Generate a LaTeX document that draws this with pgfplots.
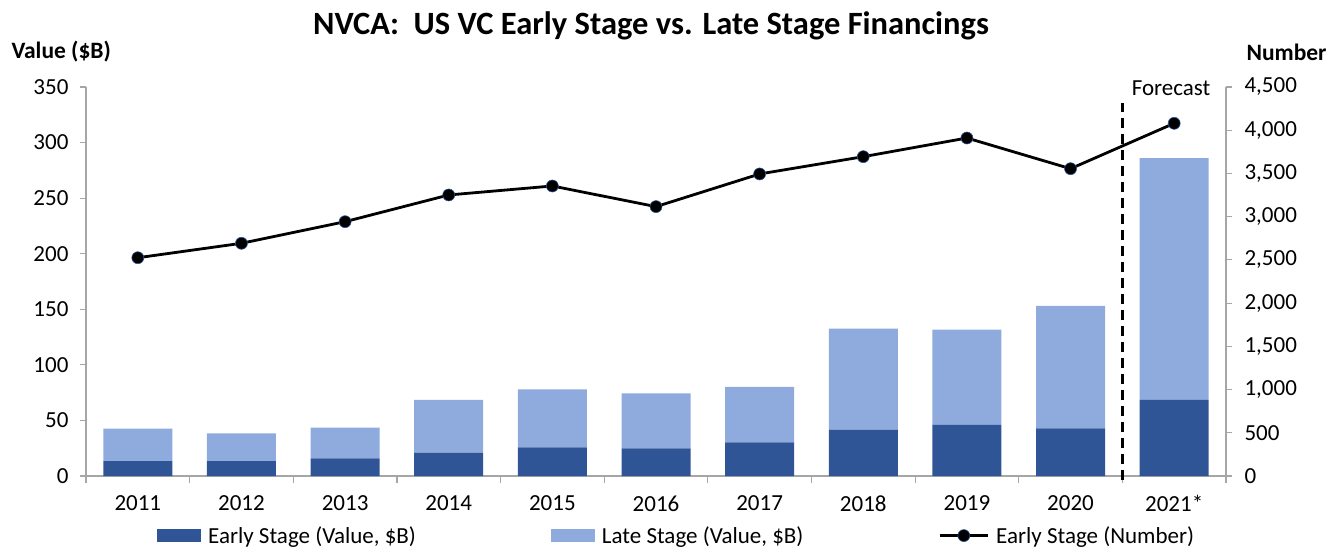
\documentclass[border=0pt]{standalone}
\usepackage{pgfplots}
\pgfplotsset{compat=1.18}
\usepackage{fontspec}
\setmainfont{Carlito}
\definecolor{early}{HTML}{2F5597}
\definecolor{late}{HTML}{8FAADC}
\definecolor{axgray}{HTML}{A6A6A6}
\definecolor{mkedge}{HTML}{2F5597}
\pgfplotstableread{
x early late number
0 13.5 29.1 2525
1 13.5 24.9 2692
2 15.9 27.6 2942
3 21.0 47.4 3251
4 25.8 52.2 3355
5 24.9 49.5 3116
6 30.3 49.8 3494
7 41.7 90.9 3694
8 45.9 85.8 3910
9 42.9 110.1 3555
10 68.4 217.6 4080
}\datatable
\begin{document}
\begin{tikzpicture}[x=1pt,y=1pt]
\useasboundingbox (0,0) rectangle (1335,550);
\node[font=\fontsize{32.5}{38}\selectfont\bfseries] at (651,524) {NVCA:\ \ US VC Early Stage vs. Late Stage Financings};
\node[anchor=west,font=\fontsize{23.5}{28}\selectfont\bfseries] at (8,498) {Value (\$B)};
\node[anchor=west,font=\fontsize{23.5}{28}\selectfont\bfseries] at (1243,498) {Number};
\begin{axis}[
  at={(86pt,74pt)}, anchor=south west, scale only axis,
  width=1140pt, height=389pt,
  xmin=-0.5, xmax=10.5, ymin=0, ymax=350,
  ytick={0,50,...,350},
  axis x line*=bottom, axis y line*=left,
  axis line style={draw=axgray, line width=1.2pt, -},
  tick style={draw=axgray, line width=1.2pt},
  tick align=outside, major tick length=6pt,
  xtick={0,...,10},
  xticklabels={2011,2012,2013,2014,2015,2016,2017,2018,2019,2020,2021*},
  major x tick style={draw=none},
  minor xtick={-0.5,0.5,...,10.5},
  minor x tick style={draw=axgray, line width=1.2pt},
  minor tick length=7pt,
  ticklabel style={font=\fontsize{23}{27}\selectfont},
  yticklabel style={xshift=-8pt},
  xticklabel style={yshift=-10pt},
  /pgf/number format/assume math mode=true,
  ybar stacked, bar width=69pt,
  clip=false,
  legend columns=3,
  legend style={draw=none, fill=none, at={(0.0623,-0.124)}, anchor=north west,
    font=\fontsize{23}{27}\selectfont,
    /tikz/every odd column/.append style={column sep=5pt},
    /tikz/every even column/.append style={column sep=133pt},
    inner sep=0pt},
  legend cell align=left,
]
\addplot[fill=early, draw=none,
  legend image code/.code={\fill[early] (0pt,-6.5pt) rectangle (44pt,6.5pt);}]
  table[x=x, y=early] {\datatable};
\addlegendentry{Early Stage (Value, \$B)}
\addplot[fill=late, draw=none,
  legend image code/.code={\fill[late] (0pt,-6.5pt) rectangle (44pt,6.5pt);}]
  table[x=x, y=late] {\datatable};
\addlegendentry{Late Stage (Value, \$B)}
\addlegendimage{legend image code/.code={\draw[black, line width=2.8pt] (0pt,0pt) -- (48pt,0pt); \filldraw[fill=black, draw=mkedge, line width=0.6pt] (24pt,0pt) circle (6pt);}}
\addlegendentry{Early Stage (Number)}
\draw[black, line width=2.8pt, dash pattern=on 10pt off 6pt] (axis cs:9.5,-4) -- (axis cs:9.5,336);
\node[font=\fontsize{23}{27}\selectfont] at (axis cs:9.97,349) {Forecast};
\end{axis}
\begin{axis}[
  at={(86pt,74pt)}, anchor=south west, scale only axis,
  width=1140pt, height=389pt,
  xmin=-0.5, xmax=10.5, ymin=0, ymax=4500,
  ytick={0,500,...,4500},
  axis y line*=right, hide x axis,
  axis line style={draw=axgray, line width=1.2pt, -},
  tick style={draw=axgray, line width=1.2pt},
  tick align=outside, major tick length=6pt,
  ticklabel style={font=\fontsize{23}{27}\selectfont},
  yticklabel style={xshift=9pt},
  /pgf/number format/assume math mode=true,
  /pgf/number format/1000 sep={,},
  scaled y ticks=false,
  clip=false,
]
\addplot[black, line width=2.8pt, mark=*, mark size=6pt,
  mark options={fill=black, draw=mkedge, line width=0.6pt}]
  table[x=x, y=number] {\datatable};
\end{axis}
\end{tikzpicture}
\end{document}
